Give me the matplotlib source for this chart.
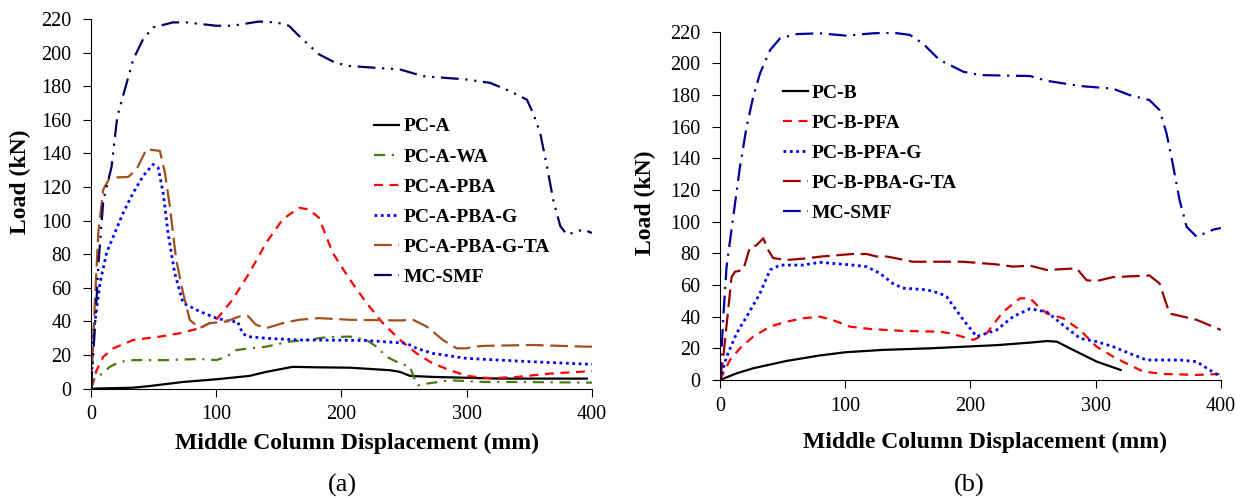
import matplotlib.pyplot as plt

plt.rcParams['font.family'] = ['Liberation Serif', 'DejaVu Serif']

# ---- panel (a) data ----
a_mc_x = [0, 3, 6, 9.8, 16.4, 21, 27, 33.7, 41.6, 49.6, 65.5, 76, 100, 113, 134, 148, 158, 166,
          182, 195, 206.7, 246.7, 265, 300, 318.7, 334.7, 348, 353, 358.7, 364, 369, 374.7, 380, 393, 400]
a_mc_y = [0, 35, 75, 112, 132, 162, 178, 196, 208, 215, 218, 218, 216, 216, 218.5, 218, 216, 210,
          199, 194, 192, 190, 186, 184, 182, 177, 172, 164, 152, 132.5, 112.6, 96.7, 91.7, 94.7, 92.7]

a_ta_x = [0, 1.5, 3.2, 5.8, 9.8, 15, 29.7, 36.3, 44.3, 55, 59, 62.9, 68, 73.5, 78.8, 86.7, 94.7, 108,
          118.6, 125, 131.8, 139.8, 153, 166, 182, 206.7, 246.7, 257, 268, 281, 292, 300, 305, 315, 353, 396, 400]
a_ta_y = [0, 25, 53, 92.7, 118.6, 125.6, 126, 130.5, 142.5, 141.5, 128.5, 108.7, 76.8, 57, 41, 36, 39, 40,
          43, 43.4, 38, 36, 39, 41, 42, 41, 40.6, 41, 37, 29, 24, 24, 25, 25.5, 26, 25, 25]

a_g_x = [0, 1.9, 7.2, 12.5, 19, 25.7, 33.7, 41.6, 49.6, 53.6, 57.6, 61.5, 66.8, 73.5, 86.7, 100, 110.6,
         117, 121, 125, 139.8, 166, 220, 252, 260, 273, 300, 326.7, 353, 400]
a_g_y = [0, 33, 63, 81, 92.7, 104.7, 116.6, 126.6, 133.5, 131.5, 116.6, 92.7, 68.9, 51, 46, 42, 40,
         40, 33, 31, 30, 29, 28.7, 27, 24, 21, 18, 17, 16, 14.5]

a_pba_x = [0, 4.5, 9.8, 17.8, 33.7, 55, 70.8, 86.7, 100, 113, 126.5, 140, 153, 166, 174, 182, 193,
           206.7, 220, 233, 246.7, 260, 273, 286.7, 300, 318.7, 340, 366.7, 400]
a_pba_y = [0, 11, 19, 24, 29, 31, 33, 36, 41, 53, 69, 87, 100.7, 107.7, 106.7, 101.7, 80.8,
           64.9, 51, 39, 29, 21, 15, 11, 7.6, 6.2, 7, 9, 10.5]

a_wa_x = [0, 3.2, 7.2, 15, 23, 33.7, 60, 86.7, 100, 108, 116, 126.5, 139.8, 158, 171.6, 188, 206.7,
          220, 228, 236, 246.7, 254.7, 258.7, 261, 268, 286.7, 313, 340, 400]
a_wa_y = [0, 7, 8, 13, 16, 17, 17, 17.7, 17, 19, 23, 24, 25, 28, 29, 30.6, 31,
          29, 25, 19, 15, 13, 5, 2, 3, 5, 4, 4, 3.6]

a_pc_x = [0, 33.7, 47, 73.5, 100, 126.5, 139.8, 161, 182, 206.7, 238.7, 246.7, 254.7, 273, 300, 326.7, 396]
a_pc_y = [0, 0.6, 1.6, 4, 5.6, 7.6, 10, 13, 12.7, 12.5, 11, 10, 7.6, 7, 6.5, 6, 6]

# ---- panel (b) data ----
b_mc_x = [0, 2.7, 5.3, 10.6, 16, 21.3, 26.6, 32, 40, 48, 61, 79.8, 101, 122, 138, 151.6, 162, 175.5,
          181, 194.4, 207.7, 247.6, 261, 287.5, 314, 327, 343, 351, 356.6, 362, 367, 372.6, 380.6, 394, 400]
b_mc_y = [0, 40, 71.6, 103, 134.7, 160, 179, 193.7, 208.4, 215.8, 218.5, 219, 217.5, 219, 219.4, 218, 212.6, 202,
          200, 194.7, 192.6, 192, 189, 185.7, 184, 180, 176.8, 170.5, 155.8, 134.7, 113.7, 96.8, 90.5, 95, 96]

b_ta_x = [0, 2.7, 6, 9.3, 12, 18.6, 24, 29, 34.6, 38.6, 42.5, 53, 69, 79.8, 106, 117, 125, 133, 141, 154,
          175.5, 194.4, 221, 234, 247.6, 261, 284.8, 292.8, 300.8, 314, 343, 351, 359, 380.6, 400]
b_ta_y = [0, 14.7, 40, 65, 68.4, 69.5, 84, 85, 89.5, 82, 77, 75.8, 76.8, 77.9, 79.6, 79.6, 78, 78, 76.8, 74.7,
          74.7, 74.7, 73, 71.6, 72.2, 69.5, 70.5, 63, 62.5, 65, 66, 61, 42, 38, 31.6]

b_g_x = [0, 5.3, 13.3, 21.3, 32, 40, 48, 66.5, 79.8, 106, 117, 127.7, 138, 146, 165, 175.5, 181, 194.4,
         205, 221, 234, 247.6, 261, 274, 287.5, 301, 314, 327, 340.7, 367, 380.6, 391, 400]
b_g_y = [0, 14.7, 29.5, 40, 54.7, 69.5, 72.6, 72.6, 74.3, 72.6, 71.6, 67.4, 61, 58, 57, 54.7, 52.6, 37.9,
         27.4, 31.6, 40, 45, 43, 34.7, 26.3, 24.2, 21, 16.8, 12.6, 12.6, 11.6, 6.3, 2]

b_pfa_x = [0, 8, 16, 26.6, 40, 53, 66.5, 79.8, 90, 103.7, 120, 146, 175.5, 184, 202.4, 213, 226, 239.6,
           247.6, 253, 261, 274, 287.5, 300.8, 314, 327, 338, 354, 380.6, 400]
b_pfa_y = [0, 12.6, 20, 27.4, 33.7, 36.8, 39, 40, 37.9, 33.7, 32.2, 31, 30.5, 29.5, 25.3, 29.5, 43, 51.6,
           51.6, 47.4, 42, 39, 31.6, 21, 14.7, 9.5, 5.3, 3.8, 3.2, 3.8]

b_pc_x = [0, 13.3, 26.6, 53, 79.8, 100, 130, 167.8, 221, 247.6, 261, 269, 282, 300.8, 320]
b_pc_y = [0, 4.2, 7.4, 12, 15.5, 17.5, 19, 20, 22, 23.6, 24.6, 24.2, 19, 11.6, 6.3]

lw = 1.6
fig = plt.figure(figsize=(12.4, 4.98), dpi=100)
ax1 = fig.add_axes([0.0734, 0.2195, 0.404, 0.7423])
ax2 = fig.add_axes([0.5806, 0.237, 0.404, 0.6993])

ax1.plot(a_pc_x, a_pc_y, color='black', lw=lw, label='PC-A')
ax1.plot(a_wa_x, a_wa_y, color='#4a7a14', lw=lw, ls=(0, (5, 3, 1, 3)), label='PC-A-WA')
ax1.plot(a_pba_x, a_pba_y, color='#ff0000', lw=lw, ls=(0, (4, 3)), label='PC-A-PBA')
ax1.plot(a_g_x, a_g_y, color='#0000ff', lw=lw + 0.4, ls=(0, (1, 1.3)), label='PC-A-PBA-G')
ax1.plot(a_ta_x, a_ta_y, color='#a0501e', lw=lw, ls=(0, (8, 3)), label='PC-A-PBA-G-TA')
ax1.plot(a_mc_x, a_mc_y, color='#000066', lw=lw, ls=(0, (8, 3, 1, 3, 1, 3)), label='MC-SMF')

ax2.plot(b_pc_x, b_pc_y, color='black', lw=lw, label='PC-B')
ax2.plot(b_pfa_x, b_pfa_y, color='#ff0000', lw=lw, ls=(0, (4, 3)), label='PC-B-PFA')
ax2.plot(b_g_x, b_g_y, color='#0000ff', lw=lw + 0.4, ls=(0, (1, 1.3)), label='PC-B-PFA-G')
ax2.plot(b_ta_x, b_ta_y, color='#990000', lw=lw, ls=(0, (8, 3)), label='PC-B-PBA-G-TA')
ax2.plot(b_mc_x, b_mc_y, color='#0000a0', lw=lw, ls=(0, (8, 3, 1, 3)), label='MC-SMF')

for ax in (ax1, ax2):
    ax.set_xlim(0, 400)
    ax.set_ylim(0, 220)
    ax.set_xticks([0, 100, 200, 300, 400])
    ax.set_yticks(range(0, 221, 20))
    ax.spines['top'].set_visible(False)
    ax.spines['right'].set_visible(False)
    ax.tick_params(labelsize=14.5, direction='out', length=6)
    ax.tick_params(axis='y', pad=8)
    ax.tick_params(axis='x', pad=6)
    ax.set_xlabel('Middle Column Displacement (mm)', fontsize=17, fontweight='bold')
    ax.set_ylabel('Load (kN)', fontsize=17, fontweight='bold')

ax1.xaxis.set_label_coords(0.53, -0.12)
ax2.xaxis.set_label_coords(0.53, -0.148)
ax1.yaxis.set_label_coords(-0.12, 0.56)
ax2.yaxis.set_label_coords(-0.128, 0.51)

leg_kw = dict(frameon=False, handlelength=1.3, handletextpad=0.2,
              labelspacing=0.64, prop={'weight': 'bold', 'size': 14})
ax1.legend(loc='upper left', bbox_to_anchor=(0.53, 0.78), **leg_kw)
ax2.legend(loc='upper left', bbox_to_anchor=(0.09, 0.90), **leg_kw)

fig.text(0.2758, 0.026, '(a)', fontsize=19, ha='center', va='center')
fig.text(0.7815, 0.026, '(b)', fontsize=19, ha='center', va='center')

fig.savefig('out.png', dpi=100)
